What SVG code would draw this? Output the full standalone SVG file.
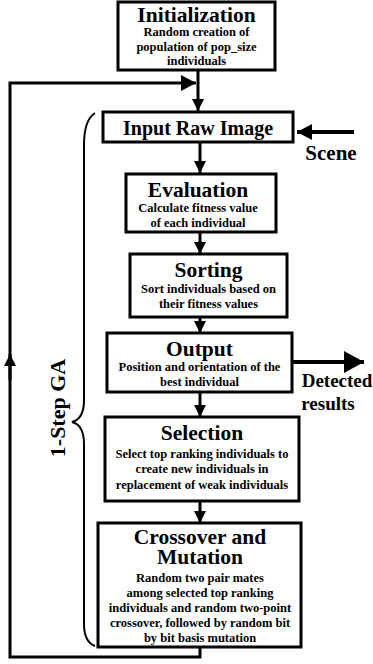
<svg xmlns="http://www.w3.org/2000/svg" width="373" height="664" viewBox="0 0 373 664">
<style>
.box{fill:#fff;stroke:#000;stroke-width:3}
text{font-family:"Liberation Serif","Times New Roman",serif;font-weight:bold;fill:#000;text-anchor:middle}
.t{font-size:21.5px}
.s{font-size:12.5px}
.l{font-size:20px}
.c{fill:none;stroke:#000;stroke-width:3}
</style>
<defs>
<marker id="ah" viewBox="0 0 12 12" refX="12" refY="6" markerWidth="12" markerHeight="12" markerUnits="userSpaceOnUse" orient="auto"><path d="M0,0 L12,6 L0,12 z"/></marker>
<marker id="ahM" viewBox="0 0 15 16" refX="15" refY="8" markerWidth="15" markerHeight="16" markerUnits="userSpaceOnUse" orient="auto"><path d="M0,0 L15,8 L0,16 z"/></marker>
<marker id="ahL" viewBox="0 0 20 22" refX="20" refY="11" markerWidth="20" markerHeight="22" markerUnits="userSpaceOnUse" orient="auto"><path d="M0,0 L20,11 L0,22 z"/></marker>
</defs>
<g id="connectors">
<line class="c" x1="198" y1="70" x2="198" y2="111" marker-end="url(#ah)"/>
<line class="c" x1="200" y1="142" x2="200" y2="173" marker-end="url(#ah)"/>
<line class="c" x1="200" y1="232" x2="200" y2="254" marker-end="url(#ah)"/>
<line class="c" x1="200" y1="317" x2="200" y2="333" marker-end="url(#ah)"/>
<line class="c" x1="200" y1="392" x2="200" y2="417" marker-end="url(#ah)"/>
<line class="c" x1="200" y1="501" x2="200" y2="523" marker-end="url(#ah)"/>
<path class="c" d="M200,647 L200,657 L10,657 L10,83 L196,83" marker-end="url(#ahM)"/>
<line class="c" x1="10" y1="380" x2="10" y2="354" marker-end="url(#ah)"/>
<line class="c" style="stroke-width:4" x1="354" y1="132" x2="297" y2="132" marker-end="url(#ahM)"/>
<line class="c" style="stroke-width:4" x1="292" y1="362" x2="364" y2="362" marker-end="url(#ahL)"/>
<path fill="none" stroke="#000" stroke-width="2" d="M95,113 C87,118 84,128 84,145 L84,400 C84,412 80,420 72,422 C80,424 84,432 84,444 L84,624 C84,636 87,643 95,646"/>
</g>
<g id="initialization">
<rect class="box" x="118" y="2" width="157" height="68"/>
<text class="t" x="196.5" y="22">Initialization</text>
<text class="s" x="196.5" y="36">Random creation of</text>
<text class="s" x="196.5" y="51">population of pop_size</text>
<text class="s" x="196.5" y="65">individuals</text>
</g>
<g id="input">
<rect class="box" x="103" y="112" width="190" height="30"/>
<text class="t" x="198" y="135" style="font-size:20px">Input Raw Image</text>
</g>
<g id="scene-label"><text class="l" x="331" y="160" style="font-size:21px">Scene</text></g>
<g id="evaluation">
<rect class="box" x="126" y="174" width="150" height="58"/>
<text class="t" x="198" y="197">Evaluation</text>
<text class="s" x="198" y="212">Calculate fitness value</text>
<text class="s" x="198" y="227">of each individual</text>
</g>
<g id="sorting">
<rect class="box" x="130" y="254" width="157" height="63"/>
<text class="t" x="208.5" y="277">Sorting</text>
<text class="s" x="208.5" y="293">Sort individuals based on</text>
<text class="s" x="208.5" y="308">their fitness values</text>
</g>
<g id="output">
<rect class="box" x="107" y="333" width="185" height="59"/>
<text class="t" x="199.5" y="356">Output</text>
<text class="s" x="199.5" y="371">Position and orientation of the</text>
<text class="s" x="199.5" y="386">best individual</text>
</g>
<g id="detected-label">
<text class="l" x="337" y="387" style="font-size:19px">Detected</text>
<text class="l" x="328" y="410" style="font-size:19px">results</text>
</g>
<g id="selection">
<rect class="box" x="105" y="417" width="194" height="84"/>
<text class="t" x="202" y="440">Selection</text>
<text class="s" x="202" y="458">Select top  ranking individuals to</text>
<text class="s" x="202" y="473">create new individuals in</text>
<text class="s" x="202" y="489">replacement of weak individuals</text>
</g>
<g id="crossover">
<rect class="box" x="98" y="523" width="203" height="124"/>
<text class="t" x="200" y="544">Crossover and</text>
<text class="t" x="200" y="564">Mutation</text>
<text class="s" x="200" y="582">Random two pair mates</text>
<text class="s" x="200" y="597">among selected top ranking</text>
<text class="s" x="200" y="612">individuals and random two-point</text>
<text class="s" x="200" y="627">crossover, followed by random bit</text>
<text class="s" x="200" y="642">by bit basis mutation</text>
</g>
<g id="ga-label">
<text class="t" transform="translate(65,408) rotate(-90)" style="font-size:22px">1-Step GA</text>
</g>
</svg>
